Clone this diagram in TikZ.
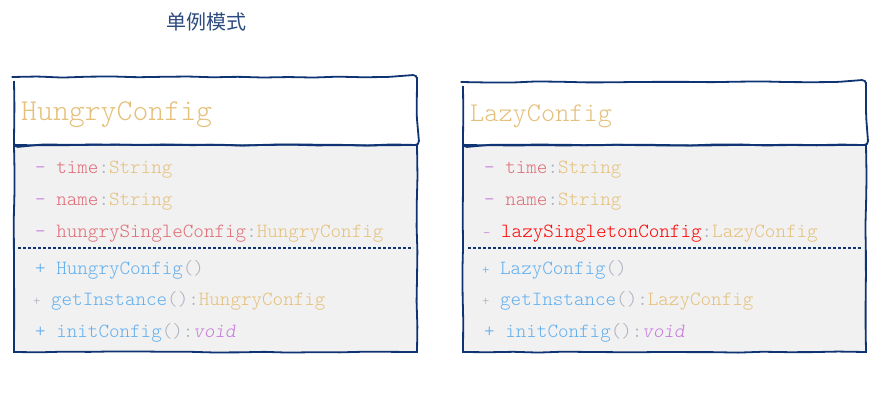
\documentclass[tikz,border=0pt]{standalone}
\usepackage{fontspec}
\usepackage{xcolor}
\usepackage{tikz}
\usetikzlibrary{positioning, decorations.pathmorphing}
\newfontfamily\cjk{Noto Sans CJK SC}
\setmonofont{Latin Modern Mono Light}

\definecolor{navy}{HTML}{0F3474}
\definecolor{titleblue}{HTML}{2B4A7E}
\definecolor{boxgray}{HTML}{F1F1F1}
\definecolor{attrred}{HTML}{E06C75}
\definecolor{typegold}{HTML}{E5C07B}
\definecolor{methblue}{HTML}{61AFEF}
\definecolor{parengray}{HTML}{ABB2BF}
\definecolor{voidpurple}{HTML}{C678DD}

% pieces of a member line
\newcommand{\mminus}{\textcolor{voidpurple}{-}}
\newcommand{\mplus}{\textcolor{methblue}{+}}
\newcommand{\splus}{\textcolor{parengray}{\scalebox{0.7}{+}}}
\newcommand{\attr}[2]{\textcolor{attrred}{#1}\textcolor{parengray}{:}\textcolor{typegold}{#2}}
\newcommand{\meth}[2]{\textcolor{methblue}{#1}\textcolor{parengray}{()#2}}

\begin{document}
\begin{tikzpicture}[x=1pt, y=-1pt,
			sketch/.style = {draw=navy, line width=1.8pt, decorate,
				decoration = {random steps, segment length=25pt, amplitude=0.6pt}},
			member/.style = {anchor=base west, inner sep=0pt, font=\ttfamily\fontsize{20.1}{20}\selectfont},
			classname/.style = {anchor=base west, inner sep=0pt, font=\ttfamily\fontsize{30.3}{30}\selectfont, text=typegold}]
			\useasboundingbox (0,0) rectangle (896,405);
			
			\node (title) [text=titleblue, font=\cjk\fontsize{20}{20}\selectfont] at (206,22) {单例模式};
			
			% HungryConfig
			\path[fill=boxgray] (14,145) rectangle (417,352);
			\draw[sketch, rounded corners=4pt] (14,77) rectangle (417,145);
			\draw[sketch] (14,145) rectangle (417,352);
			\draw[navy, line width=1.5pt, dash pattern=on 3pt off 2pt] (18,248) -- (413,248);
			%
			\node (hungry) [classname] at (21,120) {HungryConfig};
			\node (htime) [member] at (35,173) {\mminus{} \attr{time}{String}};
			\node (hname) [member] at (35,205) {\mminus{} \attr{name}{String}};
			\node (hsingle) [member] at (35,237) {\mminus{} \attr{hungrySingleConfig}{HungryConfig}};
			\node (hctor) [member] at (35,274) {\mplus{} \meth{HungryConfig}{}};
			\node (hget) [member] at (33,305) {\splus{} \meth{getInstance}{:}\textcolor{typegold}{HungryConfig}};
			\node (hinit) [member] at (35,337) {\mplus{} \meth{initConfig}{:}\textcolor{voidpurple}{\itshape void}};
			
			% LazyConfig
			\path[fill=boxgray] (463,145) rectangle (866,352);
			\draw[sketch, rounded corners=4pt] (463,82) rectangle (866,145);
			\draw[sketch] (463,145) rectangle (866,352);
			\draw[navy, line width=1.5pt, dash pattern=on 3pt off 2pt] (468,248) -- (862,248);
			%
			\node (lazy) [classname, font=\ttfamily\fontsize{27}{27}\selectfont] at (470,121) {LazyConfig};
			\node (ltime) [member] at (484,173) {\mminus{} \attr{time}{String}};
			\node (lname) [member] at (484,205) {\mminus{} \attr{name}{String}};
			\node (lsingle) [member] at (483,237) {\textcolor{voidpurple}{\scalebox{0.7}{-}}{} \textcolor{red}{lazySingletonConfig}\textcolor{parengray}{:}\textcolor{typegold}{LazyConfig}};
			\node (lctor) [member] at (482,274) {\textcolor{methblue}{\scalebox{0.7}{+}}{} \meth{LazyConfig}{}};
			\node (lget) [member] at (482,305) {\splus{} \meth{getInstance}{:}\textcolor{typegold}{LazyConfig}};
			\node (linit) [member] at (484,337) {\mplus{} \meth{initConfig}{:}\textcolor{voidpurple}{\itshape void}};
		\end{tikzpicture}
\end{document}
